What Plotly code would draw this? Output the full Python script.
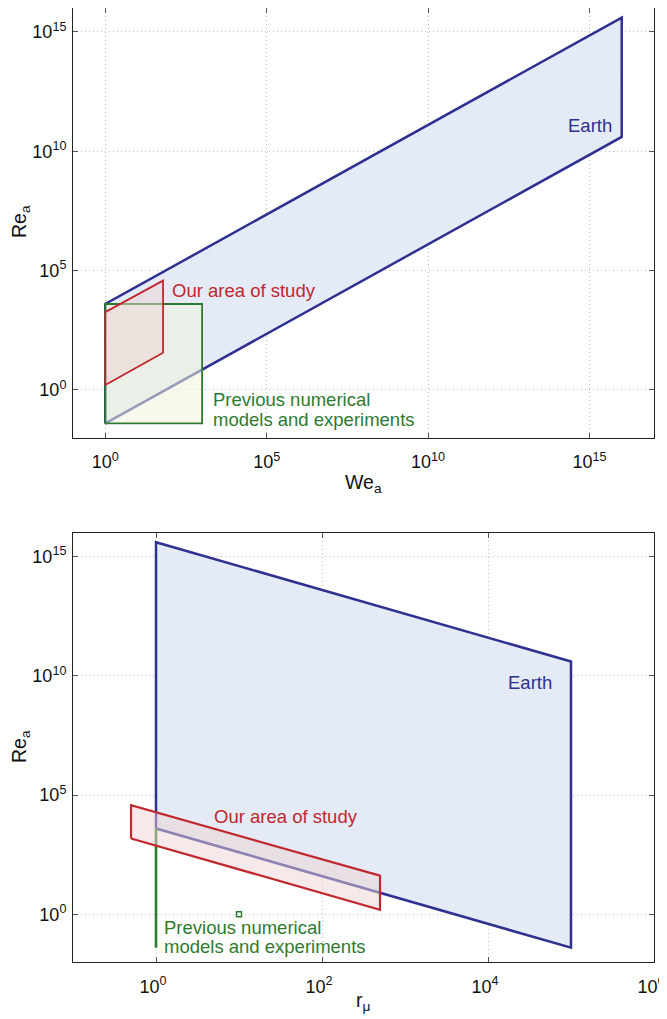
import plotly.graph_objects as go

# ---------------- data ----------------
# Top panel: Re_a vs We_a
earth_we = [1.0, 1.0, 1e16, 1e16]
earth_re_top = [10**-1.4, 10**3.6, 10**15.6, 10**10.6]

study_we = [1.0, 1.0, 10**1.79, 10**1.79]
study_re_top = [10**0.21, 10**3.26, 10**4.58, 10**1.56]

prev_we = [1.0, 1.0, 1e3, 1e3]
prev_re_top = [10**-1.4, 10**3.6, 10**3.6, 10**-1.4]

# Bottom panel: Re_a vs r_mu
earth_rmu = [1.0, 1.0, 1e5, 1e5]
earth_re_bot = [10**3.6, 10**15.6, 10**10.6, 10**-1.4]

study_rmu = [0.5, 0.5, 500.0, 500.0]
study_re_bot = [10**3.18, 10**4.57, 10**1.62, 10**0.19]

prev_rmu = [1.0, 1.0, 1.0, 1.0]
prev_re_bot = [10**-1.4, 10**3.6, 10**3.6, 10**-1.4]
prev_point_rmu = [10.0]
prev_point_re = [1.0]

x_top_ticks = [1, 1e5, 1e10, 1e15]
x_top_text = ["10<sup>0</sup>", "10<sup>5</sup>", "10<sup>10</sup>", "10<sup>15</sup>"]
y_ticks = [1, 1e5, 1e10, 1e15]
y_text = ["10<sup>0</sup>", "10<sup>5</sup>", "10<sup>10</sup>", "10<sup>15</sup>"]
x_bot_ticks = [1, 1e2, 1e4, 1e6]
x_bot_text = ["10<sup>0</sup>", "10<sup>2</sup>", "10<sup>4</sup>", "10<sup>6</sup>"]

# ---------------- styles ----------------
NAVY = "#2e3190"
EARTH_FILL = "#e4eaf6"
RED = "#c1272d"
RED_FILL = "rgba(235,212,212,0.5)"
GREEN = "#2f7a31"
GREEN_FILL = "rgba(238,244,218,0.55)"
FONT = "Liberation Sans, Arial, sans-serif"

W, H = 659, 1011
OFF = 8  # page body margin

def px(x):
    return min(1.0, max(0.0, (x - OFF) / W))

def py(y):
    return min(1.0, max(0.0, 1 - (y - OFF) / H))

fig = go.Figure()

def poly(x, y, line, fill, xa, ya, width=2.5):
    fig.add_trace(go.Scatter(x=x + [x[0]], y=y + [y[0]], mode="lines", fill="toself",
                             fillcolor=fill, line=dict(color=line, width=width),
                             xaxis=xa, yaxis=ya, showlegend=False, hoverinfo="skip"))

# top
poly(earth_we, earth_re_top, NAVY, EARTH_FILL, "x", "y")
poly(prev_we, prev_re_top, GREEN, GREEN_FILL, "x", "y", 1.8)
poly(study_we, study_re_top, RED, RED_FILL, "x", "y", 1.8)

# bottom
poly(earth_rmu, earth_re_bot, NAVY, EARTH_FILL, "x2", "y2")
poly(prev_rmu, prev_re_bot, GREEN, GREEN_FILL, "x2", "y2", 2.6)
fig.add_trace(go.Scatter(x=prev_point_rmu, y=prev_point_re, mode="markers",
                         marker=dict(symbol="square-open", size=5, color=GREEN, line=dict(width=1.5)),
                         xaxis="x2", yaxis="y2", showlegend=False, hoverinfo="skip"))
poly(study_rmu, study_re_bot, RED, RED_FILL, "x2", "y2", 2.2)

axis_common = dict(type="log", showline=True, linecolor="#222", linewidth=1, mirror="ticks",
                   ticks="inside", ticklen=5, tickcolor="#555", showgrid=True,
                   gridcolor="#bdbdbd", griddash="1px,3px", gridwidth=1, zeroline=False,
                   automargin=False, ticklabeloverflow="allow",
                   tickfont=dict(family=FONT, size=18, color="#111"))

fig.update_layout(
    width=W, height=H, margin=dict(l=0, r=0, t=0, b=0, autoexpand=False),
    plot_bgcolor="white", paper_bgcolor="white",
    xaxis=dict(axis_common, domain=[px(73), px(654)], range=[-1, 17.0001], anchor="y",
               tickvals=x_top_ticks, ticktext=x_top_text, ticklabelstandoff=8),
    yaxis=dict(axis_common, domain=[py(437.7), py(8)], range=[-2, 16], anchor="x",
               tickvals=y_ticks, ticktext=y_text, ticklabelstandoff=2),
    xaxis2=dict(axis_common, domain=[px(73), px(654)], range=[-1.0001, 6.0001], anchor="y2",
                tickvals=x_bot_ticks, ticktext=x_bot_text, ticklabelstandoff=8,
                ticklabelshift=-3),
    yaxis2=dict(axis_common, domain=[py(962), py(532.7)], range=[-2, 16], anchor="x2",
                tickvals=y_ticks, ticktext=y_text, ticklabelstandoff=2),
)

ann_font = dict(family=FONT, size=18.5)
title_font = dict(family=FONT, size=19.5, color="#111")
anns = [
    # top
    dict(x=15.75, y=11.07, xref="x", yref="y", text="Earth", xanchor="right", yanchor="middle",
         font=dict(ann_font, color=NAVY)),
    dict(x=2.01, y=4.17, xref="x", yref="y", text="Our area of study", xanchor="left", yanchor="middle",
         font=dict(ann_font, color=RED)),
    dict(x=3.29, y=-0.39, xref="x", yref="y", text="Previous numerical",
         xanchor="left", yanchor="middle", font=dict(ann_font, color=GREEN)),
    dict(x=3.29, y=-1.23, xref="x", yref="y", text="models and experiments",
         xanchor="left", yanchor="middle", font=dict(ann_font, color=GREEN)),
    # bottom
    dict(x=4.79, y=9.70, xref="x2", yref="y2", text="Earth", xanchor="right", yanchor="middle",
         font=dict(ann_font, color=NAVY)),
    dict(x=0.68, y=4.12, xref="x2", yref="y2", text="Our area of study", xanchor="left", yanchor="middle",
         font=dict(ann_font, color=RED)),
    dict(x=0.07, y=-0.57, xref="x2", yref="y2", text="Previous numerical",
         xanchor="left", yanchor="middle", font=dict(ann_font, color=GREEN)),
    dict(x=0.07, y=-1.37, xref="x2", yref="y2", text="models and experiments",
         xanchor="left", yanchor="middle", font=dict(ann_font, color=GREEN)),
    # axis titles
    dict(x=px(20), y=py(222), xref="paper", yref="paper", text="Re<sub>a</sub>", textangle=-90,
         xanchor="center", yanchor="middle", font=title_font),
    dict(x=px(363), y=py(483), xref="paper", yref="paper", text="We<sub>a</sub>",
         xanchor="center", yanchor="middle", font=title_font),
    dict(x=px(20), y=py(747), xref="paper", yref="paper", text="Re<sub>a</sub>", textangle=-90,
         xanchor="center", yanchor="middle", font=title_font),
    dict(x=px(363), y=py(1001), xref="paper", yref="paper", text="r<sub>μ</sub>",
         xanchor="center", yanchor="middle", font=title_font),
]
for a in anns:
    a.setdefault("showarrow", False)
fig.update_layout(annotations=anns)

fig.write_html("out.html")
